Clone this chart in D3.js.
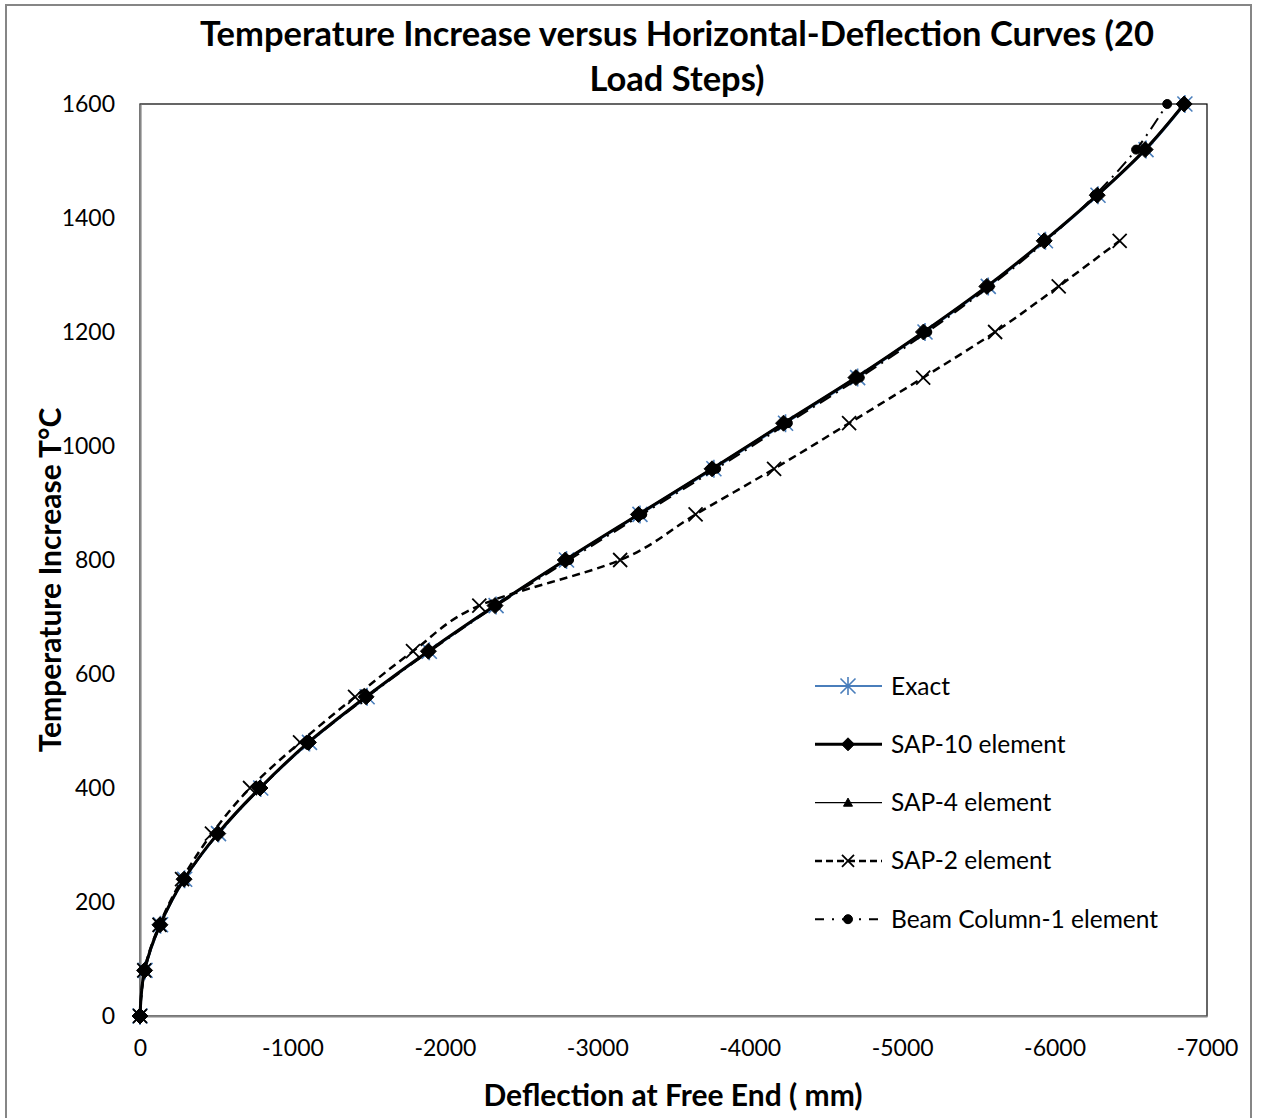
<!DOCTYPE html>
<html>
<head>
  <meta charset="utf-8">
  <style>
    body { margin: 0; background: #fff; }
    text { font-family: Lato, "Open Sans", sans-serif; fill: #000; }
  </style>
</head>
<body>
  <script src="https://cdn.jsdelivr.net/npm/d3@7"></script>
  <script>
    // data: temperature steps and deflections (mm)
    var temps = [0, 80, 160, 240, 320, 400, 480, 560, 640, 720, 800, 880, 960, 1040, 1120, 1200, 1280, 1360, 1440, 1520, 1600];
    var exactDefl = [0, -33, -135, -293, -515, -792, -1112, -1490, -1898, -2336, -2798, -3280, -3765, -4235, -4708, -5150, -5565, -5940, -6285, -6600, -6855];
    var sap10Defl = [0, -30, -131, -289, -510, -787, -1105, -1483, -1892, -2329, -2790, -3270, -3753, -4222, -4697, -5140, -5556, -5932, -6280, -6594, -6850];
    var sap4Defl = [0, -30, -130, -288, -508, -785, -1102, -1480, -1888, -2325, -2785, -3265, -3748, -4218, -4692, -5136, -5552, -5928, -6276, -6590, -6845];
    var sap2Temps = [0, 80, 160, 240, 320, 400, 480, 560, 640, 720, 800, 880, 960, 1040, 1120, 1200, 1280, 1360];
    var sap2Defl = [0, -28, -128, -276, -472, -722, -1050, -1411, -1791, -2226, -3150, -3645, -4160, -4652, -5138, -5610, -6027, -6427];
    var beamDefl = [0, -32, -134, -292, -514, -792, -1110, -1492, -1902, -2340, -2815, -3295, -3780, -4250, -4722, -5165, -5575, -5945, -6265, -6535, -6739];

    var xTicks = [0, -1000, -2000, -3000, -4000, -5000, -6000, -7000];
    var yTicks = [0, 200, 400, 600, 800, 1000, 1200, 1400, 1600];

    var width = 1261, height = 1118;
    var plot = {left: 140, right: 1207, top: 104, bottom: 1016};

    var x = d3.scaleLinear().domain([0, -7000]).range([plot.left, plot.right]);
    var y = d3.scaleLinear().domain([0, 1600]).range([plot.bottom, plot.top]);

    var svg = d3.select("body").append("svg")
      .attr("width", width)
      .attr("height", height);

    // chart area border
    svg.append("rect")
      .attr("x", 6).attr("y", 5)
      .attr("width", 1245).attr("height", 1130)
      .attr("fill", "#fff")
      .attr("stroke", "#868686")
      .attr("stroke-width", 2);

    // plot area border (top/right black, axes gray)
    svg.append("rect")
      .attr("x", plot.left).attr("y", plot.top)
      .attr("width", plot.right - plot.left).attr("height", plot.bottom - plot.top)
      .attr("fill", "none")
      .attr("stroke", "#000")
      .attr("stroke-width", 1.2);

    // plain hyphen minus like the original
    var fmt = function (d) { return String(d); };
    var xAxis = d3.axisBottom(x).tickValues(xTicks).tickSize(0).tickFormat(fmt);
    var yAxis = d3.axisLeft(y).tickValues(yTicks).tickSize(0).tickFormat(fmt);

    var gx = svg.append("g")
      .attr("transform", "translate(0," + plot.bottom + ")")
      .call(xAxis);
    var gy = svg.append("g")
      .attr("transform", "translate(" + plot.left + ",0)")
      .call(yAxis);

    [gx, gy].forEach(function (g) {
      g.select(".domain").attr("stroke", "#868686").attr("stroke-width", 2.2);
      g.selectAll("text")
        .style("font-family", "Lato, sans-serif")
        .style("font-size", "23px")
        .attr("fill", "#000");
    });
    gx.selectAll("text").attr("dy", "0.71em").attr("y", 24);
    gy.selectAll("text").attr("x", -25);

    // marker shapes
    function markerPath(kind, s) {
      if (kind == "diamond") return "M0," + (-s) + "L" + s + ",0L0," + s + "L" + (-s) + ",0Z";
      if (kind == "triangle") return "M0," + (-s) + "L" + s + "," + (s * 0.8) + "L" + (-s) + "," + (s * 0.8) + "Z";
      if (kind == "cross") return "M" + (-s) + "," + (-s) + "L" + s + "," + s + "M" + (-s) + "," + s + "L" + s + "," + (-s);
      if (kind == "asterisk") return "M" + (-s) + "," + (-s) + "L" + s + "," + s + "M" + (-s) + "," + s + "L" + s + "," + (-s) + "M0," + (-s * 1.2) + "L0," + (s * 1.2);
      return d3.arc()({innerRadius: 0, outerRadius: s, startAngle: 0, endAngle: 2 * Math.PI});
    }

    var series = [
      {name: "Exact", xs: exactDefl, ys: temps, color: "#4a7ebb", width: 2, dash: null, marker: "asterisk", ms: 7.5, filled: false, mw: 1.6},
      {name: "SAP-10 element", xs: sap10Defl, ys: temps, color: "#000", width: 3, dash: null, marker: "diamond", ms: 8, filled: true, mw: 1},
      {name: "SAP-4 element", xs: sap4Defl, ys: temps, color: "#000", width: 1.2, dash: null, marker: "triangle", ms: 4.5, filled: true, mw: 1},
      {name: "SAP-2 element", xs: sap2Defl, ys: sap2Temps, color: "#000", width: 2.5, dash: "8,5", marker: "cross", ms: 7, filled: false, mw: 1.8},
      {name: "Beam Column-1 element", xs: beamDefl, ys: temps, color: "#000", width: 2, dash: "13,6,2,6", marker: "circle", ms: 4.5, filled: true, mw: 1}
    ];

    var line = d3.line()
      .x(function (d) { return x(d[0]); })
      .y(function (d) { return y(d[1]); })
      .curve(d3.curveCatmullRom.alpha(0));

    series.forEach(function (s) {
      var pts = s.xs.map(function (v, i) { return [v, s.ys[i]]; });
      var g = svg.append("g");
      g.append("path")
        .datum(pts)
        .attr("d", line)
        .attr("fill", "none")
        .attr("stroke", s.color)
        .attr("stroke-width", s.width)
        .attr("stroke-dasharray", s.dash);
      g.selectAll("path.mk")
        .data(pts)
        .enter().append("path")
        .attr("class", "mk")
        .attr("transform", function (d) { return "translate(" + x(d[0]) + "," + y(d[1]) + ")"; })
        .attr("d", markerPath(s.marker, s.ms))
        .attr("fill", s.filled ? s.color : "none")
        .attr("stroke", s.color)
        .attr("stroke-width", s.mw);
    });

    // legend
    var legend = svg.append("g");
    series.forEach(function (s, i) {
      var ly = 686 + i * 58.3;
      var row = legend.append("g").attr("transform", "translate(0," + ly + ")");
      row.append("line")
        .attr("x1", 815).attr("x2", 882)
        .attr("stroke", s.color)
        .attr("stroke-width", s.width)
        .attr("stroke-dasharray", s.name == "Beam Column-1 element" ? "9,8,2,8" : (s.dash ? "7,4" : null));
      row.append("path")
        .attr("transform", "translate(848,0)")
        .attr("d", markerPath(s.marker, s.marker == "diamond" ? 6.5 : (s.marker == "cross" ? 6 : s.ms)))
        .attr("fill", s.filled ? s.color : "none")
        .attr("stroke", s.color)
        .attr("stroke-width", s.mw);
      row.append("text")
        .attr("x", 891)
        .attr("y", 0)
        .attr("dy", "0.35em")
        .style("font-size", "24.5px")
        .text(s.name);
    });

    // titles
    svg.append("text")
      .attr("x", 677).attr("y", 46)
      .attr("text-anchor", "middle")
      .style("font-size", "34.5px").style("font-weight", "bold")
      .text("Temperature Increase versus Horizontal-Deflection Curves (20");
    svg.append("text")
      .attr("x", 677).attr("y", 91)
      .attr("text-anchor", "middle")
      .style("font-size", "34.5px").style("font-weight", "bold")
      .text("Load Steps)");

    svg.append("text")
      .attr("x", 673).attr("y", 1106)
      .attr("text-anchor", "middle")
      .style("font-size", "30px").style("font-weight", "bold")
      .text("Deflection at Free End ( mm)");

    svg.append("text")
      .attr("transform", "translate(61,580) rotate(-90)")
      .attr("text-anchor", "middle")
      .style("font-size", "30px").style("font-weight", "bold")
      .text("Temperature Increase T°C");
  </script>
</body>
</html>
